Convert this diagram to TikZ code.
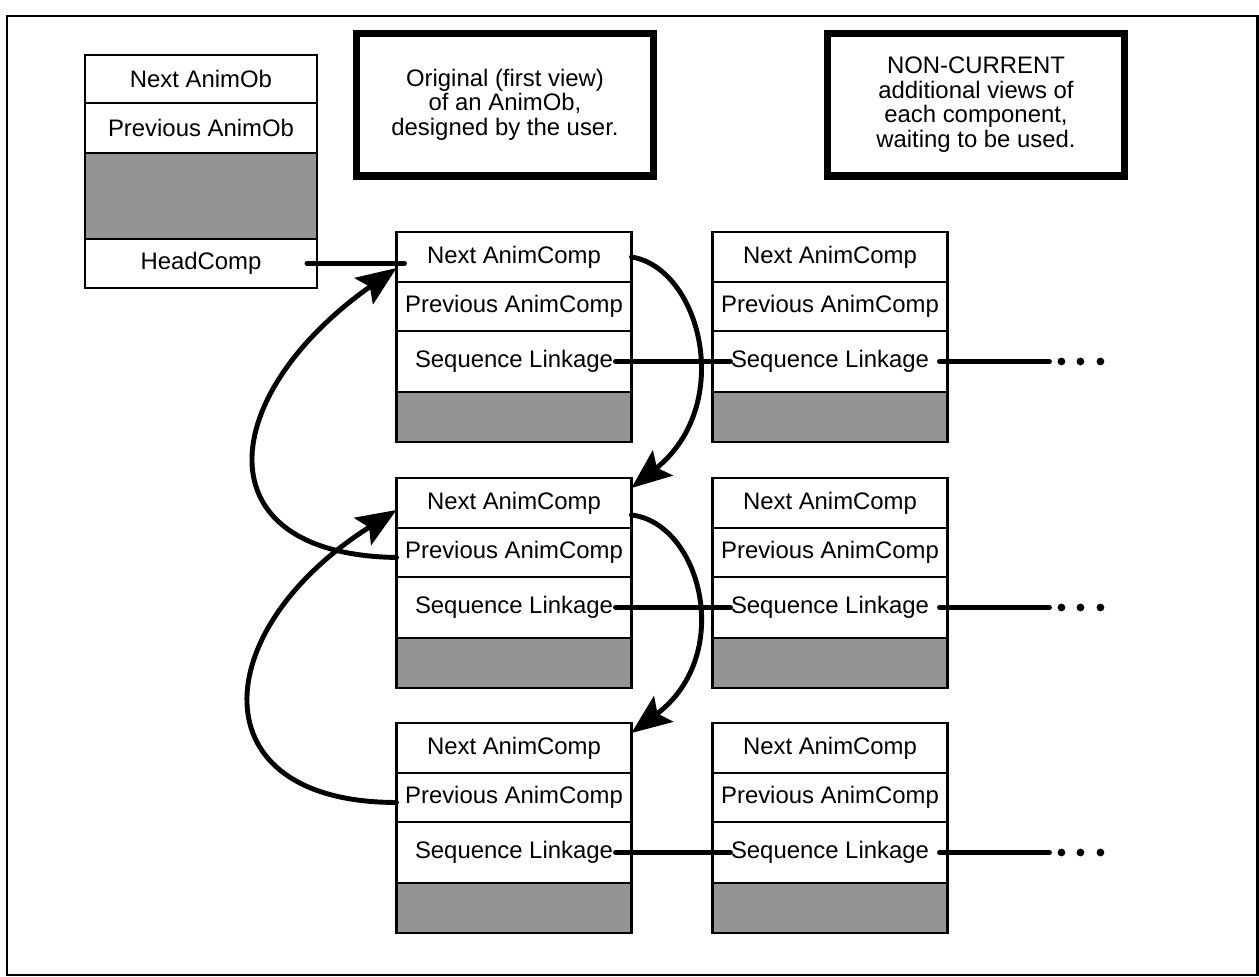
\documentclass[tikz,border=0pt]{standalone}
\usepackage{fontspec}
\setmainfont{Liberation Sans}
\usetikzlibrary{arrows.meta}
\begin{document}
\begin{tikzpicture}[x=0.02cm,y=-0.02cm,
  every node/.style={font=\fontsize{13.6}{14}\selectfont},
  cell/.style={draw,line width=1.4pt,minimum width=4.7cm,inner sep=0pt,outer sep=0pt,anchor=north},
  obcell/.style={cell,minimum width=4.64cm},
  nextc/.style={minimum height=1cm},
  prevc/.style={minimum height=0.98cm},
  seqc/.style={minimum height=1.22cm},
  shadec/.style={minimum height=1cm,fill=black!42},
  hdr/.style={draw,line width=4pt,minimum width=5.96cm,minimum height=2.86cm,align=center,inner sep=0pt},
  link/.style={line width=2.8pt,line cap=round},
  arr/.style={line width=2.8pt,line cap=round,-{Stealth[length=0.8cm,width=0.64cm,inset=0.15cm]}},
  dotc/.style={fill=black}]
\useasboundingbox (0,0) rectangle (1259,977);
\draw[line width=1.7pt] (7,16) rectangle (1257,975);

% AnimOb table
\node[obcell,minimum height=0.96cm] (onext) at (201,55) {Next AnimOb};
\node[obcell,minimum height=1cm] (oprev) at (onext.south) {Previous AnimOb};
\node[obcell,minimum height=1.72cm,fill=black!42] (oshade) at (oprev.south) {};
\node[obcell,minimum height=0.98cm] (hc) at (oshade.south) {HeadComp};

% header boxes
\node[hdr] (orig) at (505,104.5) {Original (first view)\\of an AnimOb,\\designed by the user.};
\node[hdr] (noncur) at (976,104.5) {NON-CURRENT\\additional views of\\each component,\\waiting to be used.};

% columns
\foreach \r/\y in {1/232,2/478,3/723}{
  \node[cell,nextc] (c1\r n) at (514,\y) {Next AnimComp};
  \node[cell,prevc] (c1\r p) at (c1\r n.south) {Previous AnimComp};
  \node[cell,seqc] (c1\r s) at (c1\r p.south) {Sequence Linkage};
  \node[cell,shadec] (c1\r h) at (c1\r s.south) {};
  \node[cell,nextc] (c2\r n) at (830,\y) {Next AnimComp};
  \node[cell,prevc] (c2\r p) at (c2\r n.south) {Previous AnimComp};
  \node[cell,seqc] (c2\r s) at (c2\r p.south) {Sequence Linkage};
  \node[cell,shadec] (c2\r h) at (c2\r s.south) {};
  \draw[link] ([xshift=-0.32cm]c1\r s.east) -- ([xshift=0.36cm]c2\r s.west);
  \draw[link] ([xshift=-0.16cm]c2\r s.east) -- ([xshift=2.04cm]c2\r s.east);
  \fill[dotc] ([xshift=2.28cm]c2\r s.east) circle (0.078cm);
  \fill[dotc] ([xshift=2.66cm]c2\r s.east) circle (0.078cm);
  \fill[dotc] ([xshift=3.06cm]c2\r s.east) circle (0.078cm);
}

% HeadComp link
\coordinate (hcend) at (hc.east -| c11n.west);
\draw[link] ([xshift=-0.2cm]hc.east) -- ([xshift=0.16cm]hcend);

% next chain
\draw[arr] (c11n.east) .. controls +(69,11) and +(104,-83) .. ([yshift=-0.2cm]c12n.north east);
\draw[arr] ([yshift=-0.24cm]c12n.east) .. controls +(69,8) and +(104,-78) .. ([yshift=-0.2cm]c13n.north east);

% previous chain
\draw[arr] ([yshift=-0.1cm]c12p.west) .. controls +(-197,-3) and +(-180,127) .. ([yshift=-0.22cm]c11n.west);
\draw[arr] ([yshift=-0.1cm]c13p.west) .. controls +(-200,0) and +(-190,120) .. ([yshift=-0.14cm]c12n.west);
\end{tikzpicture}
\end{document}
